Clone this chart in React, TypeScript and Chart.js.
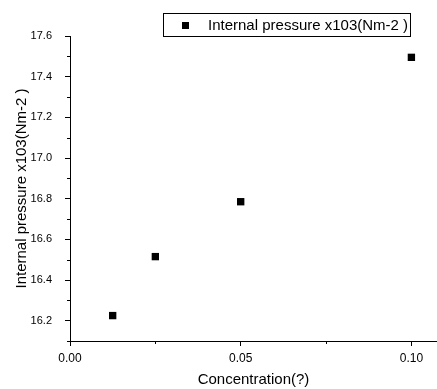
import React, { useEffect, useRef } from "react";
import { Chart, registerables } from "chart.js";

Chart.register(...registerables);

const concentrations = [0.0125, 0.025, 0.05, 0.1];
const pressures = [16.225, 16.515, 16.785, 17.495];
const xMajorTicks = [0, 0.05, 0.1];
const xMinorTicks = [0.025, 0.075];
const yMajorTicks = [16.2, 16.4, 16.6, 16.8, 17.0, 17.2, 17.4, 17.6];
const yMinorTicks = [16.1, 16.3, 16.5, 16.7, 16.9, 17.1, 17.3, 17.5];
const seriesLabel = "Internal pressure x103(Nm-2 )";
const xTitle = "Concentration(?)";
const yTitle = "Internal pressure x103(Nm-2 )";

const FONT = "Arial, 'Liberation Sans', sans-serif";

const minorTicksPlugin = {
  id: "minorTicks",
  afterDraw(chart: any) {
    const ctx = chart.ctx;
    const xs = chart.scales.x;
    const ys = chart.scales.y;
    ctx.save();
    ctx.strokeStyle = "#000";
    ctx.lineWidth = 1;
    ctx.beginPath();
    for (const v of xMinorTicks) {
      const px = Math.round(xs.getPixelForValue(v)) + 0.5;
      ctx.moveTo(px, xs.top);
      ctx.lineTo(px, xs.top + 3);
    }
    for (const v of yMinorTicks) {
      const py = Math.round(ys.getPixelForValue(v)) + 0.5;
      ctx.moveTo(ys.right, py);
      ctx.lineTo(ys.right - 3, py);
    }
    ctx.stroke();
    ctx.restore();
  },
};

const legendBoxPlugin = {
  id: "legendBox",
  afterDraw(chart: any) {
    const ctx = chart.ctx;
    ctx.save();
    ctx.strokeStyle = "#000";
    ctx.lineWidth = 1;
    ctx.fillStyle = "#fff";
    ctx.fillRect(163.5, 13.5, 247, 23);
    ctx.strokeRect(163.5, 13.5, 247, 23);
    ctx.fillStyle = "#000";
    ctx.fillRect(182, 22, 7, 7);
    ctx.font = `15px ${FONT}`;
    ctx.textBaseline = "middle";
    ctx.textAlign = "left";
    ctx.fillText(seriesLabel, 208, 26);
    ctx.restore();
  },
};

export default function App() {
  const ref = useRef<HTMLCanvasElement | null>(null);
  useEffect(() => {
    document.body.style.margin = "0";
    const canvas = ref.current!;
    const chart = new Chart(canvas, {
      type: "scatter",
      data: {
        datasets: [
          {
            label: seriesLabel,
            data: concentrations.map((c, i) => ({ x: c, y: pressures[i] })),
            pointStyle: "rect",
            pointRadius: 5.2,
            pointBackgroundColor: "#000",
            pointBorderColor: "#000",
            pointBorderWidth: 0,
            showLine: false,
            clip: false,
          },
        ],
      },
      options: {
        animation: false,
        responsive: false,
        maintainAspectRatio: false,
        layout: { autoPadding: false, padding: { top: 36, left: 0, right: 0, bottom: 0 } },
        plugins: {
          legend: { display: false },
          tooltip: { enabled: false },
        },
        scales: {
          x: {
            type: "linear",
            min: 0,
            max: 0.1075,
            afterBuildTicks: (s: any) => {
              s.ticks = xMajorTicks.map((v) => ({ value: v }));
            },
            afterFit: (s: any) => {
              s.height = 48;
              s.paddingLeft = 0;
              s.paddingRight = 0;
            },
            ticks: {
              color: "#000",
              font: { family: FONT, size: 12 },
              padding: 5,
              maxRotation: 0,
              callback: (v: any) => Number(v).toFixed(2),
            },
            grid: {
              display: true,
              drawOnChartArea: false,
              drawTicks: true,
              tickLength: 5,
              tickColor: "#000",
              color: "#000",
            },
            border: { display: true, color: "#000", width: 1 },
            title: {
              display: true,
              text: xTitle,
              color: "#000",
              font: { family: FONT, size: 15 },
              padding: { top: 2, bottom: 0 },
            },
          },
          y: {
            type: "linear",
            min: 16.1,
            max: 17.6,
            afterBuildTicks: (s: any) => {
              s.ticks = yMajorTicks.map((v) => ({ value: v }));
            },
            afterFit: (s: any) => {
              s.width = 70;
              s.paddingTop = 0;
              s.paddingBottom = 0;
            },
            ticks: {
              color: "#000",
              font: { family: FONT, size: 11 },
              padding: 13,
              callback: (v: any) => Number(v).toFixed(1),
            },
            grid: {
              display: true,
              drawOnChartArea: false,
              drawTicks: true,
              tickLength: 5,
              tickColor: "#000",
              color: "#000",
            },
            border: { display: true, color: "#000", width: 1 },
            title: {
              display: true,
              text: yTitle,
              color: "#000",
              font: { family: FONT, size: 15 },
              padding: { top: 13, bottom: 2 },
            },
          },
        },
      },
      plugins: [minorTicksPlugin, legendBoxPlugin],
    });
    return () => chart.destroy();
  }, []);
  return (
    <div style={{ width: 437, height: 389, background: "#fff" }}>
      <canvas ref={ref} width={437} height={389} style={{ display: "block" }} />
    </div>
  );
}
